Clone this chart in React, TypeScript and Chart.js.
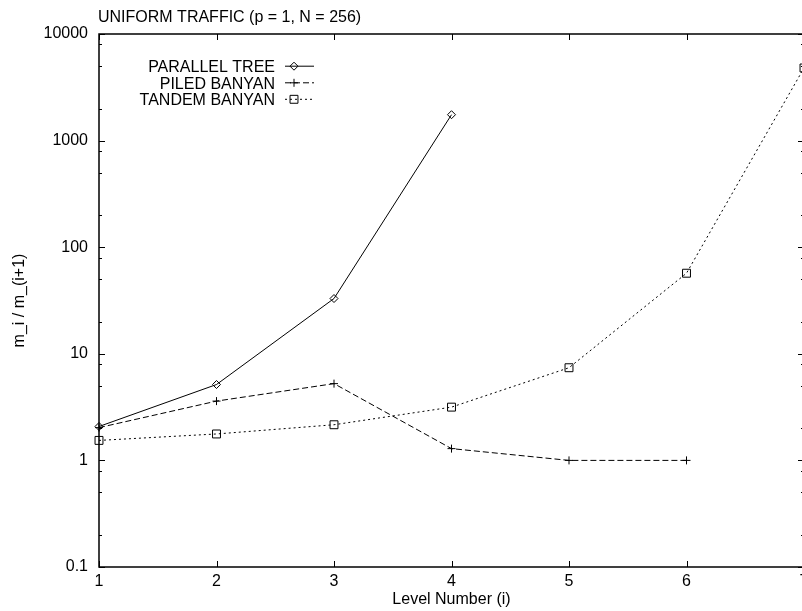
import { useEffect, useRef } from "react";
import { Chart, registerables } from "chart.js";

Chart.register(...registerables);

// Level numbers along the x axis
const levels = [1, 2, 3, 4, 5, 6, 7];

// m_i / m_(i+1) for each switch design
const parallelTree = [2.08, 5.15, 33, 1750];
const piledBanyan = [2.03, 3.6, 5.25, 1.29, 1.0, 1.0];
const tandemBanyan = [1.54, 1.77, 2.16, 3.16, 7.4, 57, 4800];

const seriesNames = ["PARALLEL TREE", "PILED BANYAN", "TANDEM BANYAN"];

// Axis ticks
const xTicks = [1, 2, 3, 4, 5, 6, 7];
const yMajorTicks = [0.1, 1, 10, 100, 1000, 10000];
const yMinorMultipliers = [2, 5, 8];

const chartTitle = "UNIFORM TRAFFIC (p = 1, N = 256)";
const xTitle = "Level Number (i)";
const yTitle = "m_i / m_(i+1)";

const FONT = "'Liberation Sans', Arial, Helvetica, sans-serif";

const toPoints = (vals: number[]) => vals.map((v, i) => ({ x: levels[i], y: v }));

function drawMarker(ctx: CanvasRenderingContext2D, style: string, x: number, y: number, r: number) {
  ctx.beginPath();
  if (style === "rectRot") {
    ctx.moveTo(x - r, y);
    ctx.lineTo(x, y - r);
    ctx.lineTo(x + r, y);
    ctx.lineTo(x, y + r);
    ctx.closePath();
  } else if (style === "cross") {
    ctx.moveTo(x - r, y);
    ctx.lineTo(x + r, y);
    ctx.moveTo(x, y - r);
    ctx.lineTo(x, y + r);
  } else {
    const s = Math.SQRT1_2 * r;
    ctx.rect(x - s, y - s, 2 * s, 2 * s);
  }
  ctx.stroke();
}

const framePlugin = {
  id: "gnuFrame",
  afterDraw(chart: any) {
    const { ctx, chartArea: a, scales } = chart;
    const xs = scales.x;
    const ys = scales.y;
    ctx.save();
    ctx.strokeStyle = "#000";
    ctx.lineWidth = 1;
    ctx.setLineDash([]);

    // inward x ticks on bottom and top
    ctx.beginPath();
    for (const t of xTicks) {
      const px = Math.round(xs.getPixelForValue(t)) + 0.5;
      ctx.moveTo(px, a.bottom);
      ctx.lineTo(px, a.bottom - 6);
      ctx.moveTo(px, a.top);
      ctx.lineTo(px, a.top + 6);
    }
    // inward y ticks on left and right
    for (const t of yMajorTicks) {
      const py = Math.round(ys.getPixelForValue(t)) + 0.5;
      ctx.moveTo(a.left, py);
      ctx.lineTo(a.left + 6, py);
      ctx.moveTo(a.right, py);
      ctx.lineTo(a.right - 6, py);
    }
    for (const d of yMajorTicks.slice(0, -1)) {
      for (const m of yMinorMultipliers) {
        const py = Math.round(ys.getPixelForValue(d * m)) + 0.5;
        ctx.moveTo(a.left, py);
        ctx.lineTo(a.left + 3, py);
        ctx.moveTo(a.right, py);
        ctx.lineTo(a.right - 3, py);
      }
    }
    ctx.stroke();

    // border
    ctx.lineWidth = 1.5;
    ctx.strokeRect(a.left, a.top, a.right - a.left, a.bottom - a.top);

    // title
    ctx.fillStyle = "#000";
    ctx.font = `16px ${FONT}`;
    ctx.textAlign = "left";
    ctx.textBaseline = "alphabetic";
    ctx.fillText(chartTitle, a.left - 1, 21.5);

    // key
    const rowsCenter = [66.2, 82.8, 99.3];
    chart.data.datasets.forEach((ds: any, i: number) => {
      const cy = rowsCenter[i];
      ctx.textAlign = "right";
      ctx.fillText(ds.label, 275, cy + 5.8);
      ctx.lineWidth = 1;
      ctx.setLineDash(ds.borderDash || []);
      ctx.beginPath();
      ctx.moveTo(285, cy);
      ctx.lineTo(314, cy);
      ctx.stroke();
      ctx.setLineDash([]);
      drawMarker(ctx, ds.pointStyle, 294, cy, ds.pointRadius);
    });
    ctx.restore();
  },
};

export default function App() {
  const canvasRef = useRef<HTMLCanvasElement | null>(null);

  useEffect(() => {
    if (!canvasRef.current) return;
    const common = {
      borderColor: "#000",
      backgroundColor: "rgba(0,0,0,0)",
      borderWidth: 1,
      pointBorderColor: "#000",
      pointBackgroundColor: "rgba(0,0,0,0)",
      pointBorderWidth: 1,
      tension: 0,
      clip: false as const,
      fill: false,
    };
    const chart = new Chart(canvasRef.current, {
      type: "line",
      data: {
        datasets: [
          {
            ...common,
            label: seriesNames[0],
            data: toPoints(parallelTree),
            pointStyle: "rectRot",
            pointRadius: 4,
            borderDash: [],
          },
          {
            ...common,
            label: seriesNames[1],
            data: toPoints(piledBanyan),
            pointStyle: "cross",
            pointRadius: 4,
            borderDash: [6, 3],
          },
          {
            ...common,
            label: seriesNames[2],
            data: toPoints(tandemBanyan),
            pointStyle: "rect",
            pointRadius: 5.6,
            borderDash: [2, 3],
          },
        ],
      },
      options: {
        animation: false,
        responsive: false,
        devicePixelRatio: 1,
        layout: { padding: { top: 34, right: 26, bottom: 0, left: 0 } },
        plugins: {
          legend: { display: false },
          tooltip: { enabled: false },
          title: { display: false },
        },
        scales: {
          x: {
            type: "linear",
            min: 1,
            max: 7,
            grid: { display: false, drawTicks: false },
            border: { display: false },
            afterBuildTicks: (s: any) => {
              s.ticks = xTicks.map((v) => ({ value: v }));
            },
            ticks: {
              color: "#000",
              font: { family: FONT, size: 16 },
              padding: 5,
              maxRotation: 0,
              autoSkip: false,
            },
            title: {
              display: true,
              text: xTitle,
              color: "#000",
              font: { family: FONT, size: 16 },
              padding: { top: 0, bottom: 2 },
            },
            afterFit: (s: any) => {
              s.height = 44;
            },
          },
          y: {
            type: "logarithmic",
            min: 0.1,
            max: 10000,
            grid: { display: false, drawTicks: false },
            border: { display: false },
            afterBuildTicks: (s: any) => {
              s.ticks = yMajorTicks.map((v) => ({ value: v }));
            },
            ticks: {
              color: "#000",
              font: { family: FONT, size: 16 },
              padding: 11,
              autoSkip: false,
              callback: (v: any) => String(v),
            },
            title: {
              display: true,
              text: yTitle,
              color: "#000",
              font: { family: FONT, size: 16 },
              padding: { top: 10, bottom: 0 },
            },
            afterFit: (s: any) => {
              s.width = 99;
            },
          },
        },
      },
      plugins: [framePlugin],
    } as any);
    return () => chart.destroy();
  }, []);

  return (
    <div
      style={{
        position: "fixed",
        left: 0,
        top: 0,
        width: 802,
        height: 611,
        overflow: "hidden",
        background: "#fff",
      }}
    >
      <canvas ref={canvasRef} width={830} height={611} style={{ display: "block" }} />
    </div>
  );
}
